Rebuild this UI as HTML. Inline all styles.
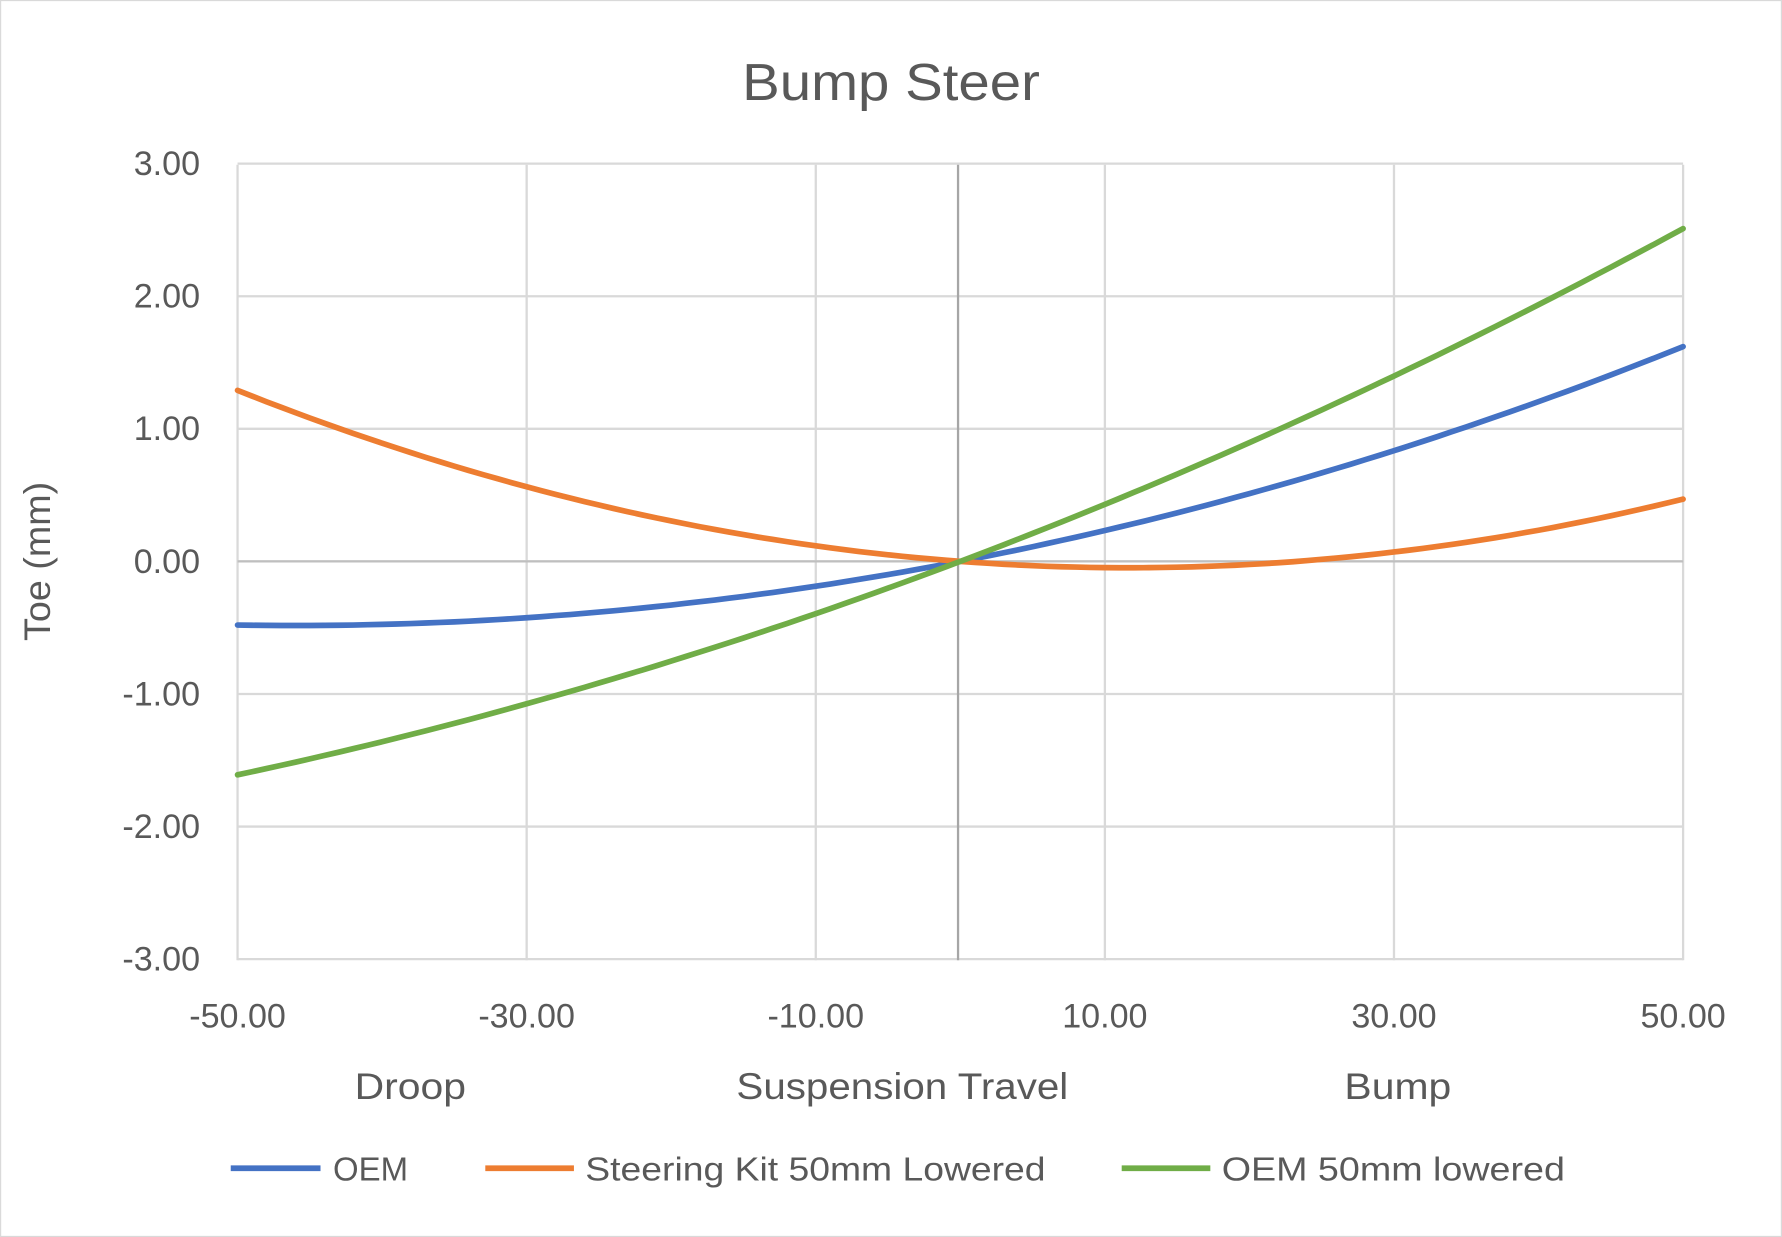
<!DOCTYPE html>
<html><head><style>
body{margin:0;background:#fff}
svg text{font-family:"Liberation Sans",sans-serif;fill:#595959}
</style></head><body>
<svg id="s" width="1782" height="1237" viewBox="0 0 1568 1088.5" xmlns="http://www.w3.org/2000/svg" style="display:block">
<rect x="0.5" y="0.5" width="1567" height="1087.5" fill="#fff" stroke="#d9d9d9"/>
<text x="784" y="88" font-size="46" text-anchor="middle" textLength="262" lengthAdjust="spacingAndGlyphs">Bump Steer</text>
<g stroke="#d9d9d9" stroke-width="2" id="grid"></g>
<line x1="209" y1="494" x2="1481" y2="494" stroke="#bfbfbf" stroke-width="2"/>
<line x1="843" y1="145" x2="843" y2="845" stroke="#a6a6a6" stroke-width="2"/>
<g font-size="30" text-anchor="end" id="yl"></g>
<g font-size="30" text-anchor="middle" id="xl"></g>
<text x="361" y="967" font-size="33" text-anchor="middle" textLength="98" lengthAdjust="spacingAndGlyphs">Droop</text>
<text x="794" y="967" font-size="33" text-anchor="middle" textLength="292" lengthAdjust="spacingAndGlyphs">Suspension Travel</text>
<text x="1230" y="967" font-size="33" text-anchor="middle" textLength="94" lengthAdjust="spacingAndGlyphs">Bump</text>
<text transform="translate(44,494) rotate(-90)" font-size="33" text-anchor="middle" textLength="140" lengthAdjust="spacingAndGlyphs">Toe (mm)</text>
<g fill="none" stroke-width="5" stroke-linecap="round">
<polyline id="c1" stroke="#4472c4"/>
<polyline id="c2" stroke="#ed7d31"/>
<polyline id="c3" stroke="#70ad47"/>
</g>
<g stroke-width="5">
<line x1="203" y1="1028" x2="282" y2="1028" stroke="#4472c4"/>
<line x1="427" y1="1028" x2="505" y2="1028" stroke="#ed7d31"/>
<line x1="987" y1="1028" x2="1065" y2="1028" stroke="#70ad47"/>
</g>
<g font-size="29">
<text x="293" y="1039" textLength="66" lengthAdjust="spacingAndGlyphs">OEM</text>
<text x="515" y="1039" textLength="405" lengthAdjust="spacingAndGlyphs">Steering Kit 50mm Lowered</text>
<text x="1075" y="1039" textLength="302" lengthAdjust="spacingAndGlyphs">OEM 50mm lowered</text>
</g>
</svg>
<script>
var NS="http://www.w3.org/2000/svg";
function X(v){return 209+(v+50)*12.72}
function Y(v){return 494-v*116.67}
var g=document.getElementById('grid'),yl=document.getElementById('yl'),xl=document.getElementById('xl');
for(var i=-3;i<=3;i++){var l=document.createElementNS(NS,'line');l.setAttribute('x1',209);l.setAttribute('x2',1481);l.setAttribute('y1',Y(i));l.setAttribute('y2',Y(i));g.appendChild(l);
var t=document.createElementNS(NS,'text');t.setAttribute('x',176);t.setAttribute('y',Y(i)+10);t.textContent=i.toFixed(2);yl.appendChild(t);}
for(var v=-50;v<=50;v+=20){var l=document.createElementNS(NS,'line');l.setAttribute('y1',145);l.setAttribute('y2',845);l.setAttribute('x1',X(v));l.setAttribute('x2',X(v));g.appendChild(l);
var t=document.createElementNS(NS,'text');t.setAttribute('x',X(v));t.setAttribute('y',904);t.textContent=v.toFixed(2);xl.appendChild(t);}
function curve(id,a,b){var p=[];for(var x=-50;x<=50;x+=1){p.push(X(x).toFixed(1)+','+Y(a*x*x+b*x).toFixed(1));}document.getElementById(id).setAttribute('points',p.join(' '));}
curve('c1',0.000228,0.021);
curve('c2',0.000352,-0.0082);
curve('c3',0.00018,0.0412);
</script>
</body></html>
